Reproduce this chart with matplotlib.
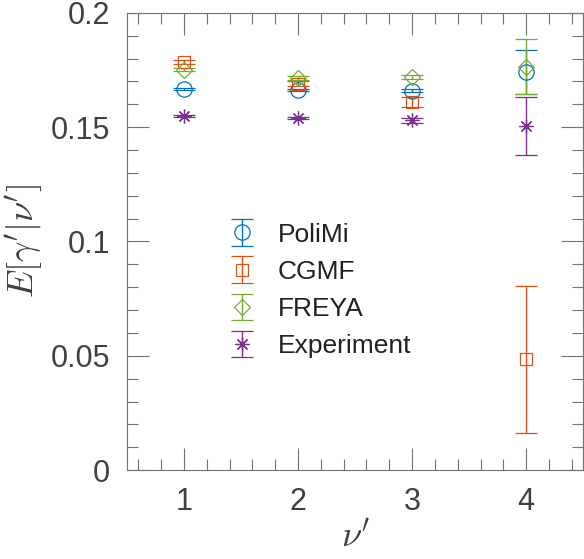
import numpy as np
import matplotlib.pyplot as plt
from matplotlib.ticker import MultipleLocator

plt.rcParams['font.family'] = ['Liberation Sans', 'DejaVu Sans']
plt.rcParams['mathtext.fontset'] = 'cm'

# dados
nu = [1, 2, 3, 4]
polimi = [0.1667, 0.1663, 0.1660, 0.1742]
polimi_err = [0.0004, 0.0005, 0.0006, 0.0095]
cgmf = [0.1786, 0.1690, 0.1610, 0.0484]
cgmf_err = [0.0008, 0.0012, 0.0020, 0.0323]
freya = [0.1752, 0.1716, 0.1720, 0.1765]
freya_err = [0.0006, 0.0008, 0.0010, 0.0120]
exper = [0.1548, 0.1540, 0.1530, 0.1505]
exper_err = [0.0004, 0.0005, 0.0012, 0.0125]

series = [
    ('PoliMi', polimi, polimi_err, 'o', 11, (0, 0.447, 0.741)),
    ('CGMF', cgmf, cgmf_err, 's', 9, (0.85, 0.325, 0.098)),
    ('FREYA', freya, freya_err, 'D', 8, (0.466, 0.674, 0.188)),
    ('Experiment', exper, exper_err, (8, 2, 0), 10, (0.494, 0.184, 0.556)),
]

fig = plt.figure(figsize=(5.84, 5.59), dpi=100)
ax = fig.add_axes([0.2175, 0.159, 0.781, 0.818])

for nome, val, err, mk, ms, cor in series:
    ax.errorbar(nu, val, yerr=err, fmt='', marker=mk, linestyle='none',
                markersize=ms, markerfacecolor='none', markeredgecolor=cor,
                markeredgewidth=0.9, ecolor=cor, elinewidth=1.0,
                capsize=8, capthick=1.0, label=nome)

ax.set_xlim(0.5, 4.5)
ax.set_ylim(0, 0.2)
ax.set_xticks(nu)
ax.set_yticks([0, 0.05, 0.1, 0.15, 0.2])
ax.set_yticklabels(['0', '0.05', '0.1', '0.15', '0.2'])
ax.xaxis.set_minor_locator(MultipleLocator(0.2))
ax.yaxis.set_minor_locator(MultipleLocator(0.01))
ax.tick_params(which='both', direction='in', top=True, right=True,
               color='0.45', width=0.8, labelsize=22, labelcolor='0.25')
ax.tick_params(which='major', length=16, pad=12)
ax.tick_params(which='minor', length=8)
for s in ax.spines.values():
    s.set_color('0.45')
    s.set_linewidth(0.8)

ax.set_xlabel(r"$\nu'$", fontsize=26, color='0.25', labelpad=2)
ax.set_ylabel(r"$E[\gamma'|\nu']$", fontsize=26, color='0.25', labelpad=4)

leg = ax.legend(loc='center left', bbox_to_anchor=(0.165, 0.393), frameon=False,
                fontsize=19, handlelength=1.2, handletextpad=0.75,
                labelspacing=0.5)
for t in leg.get_texts():
    t.set_color('0.13')

fig.savefig('out.png', dpi=100)
